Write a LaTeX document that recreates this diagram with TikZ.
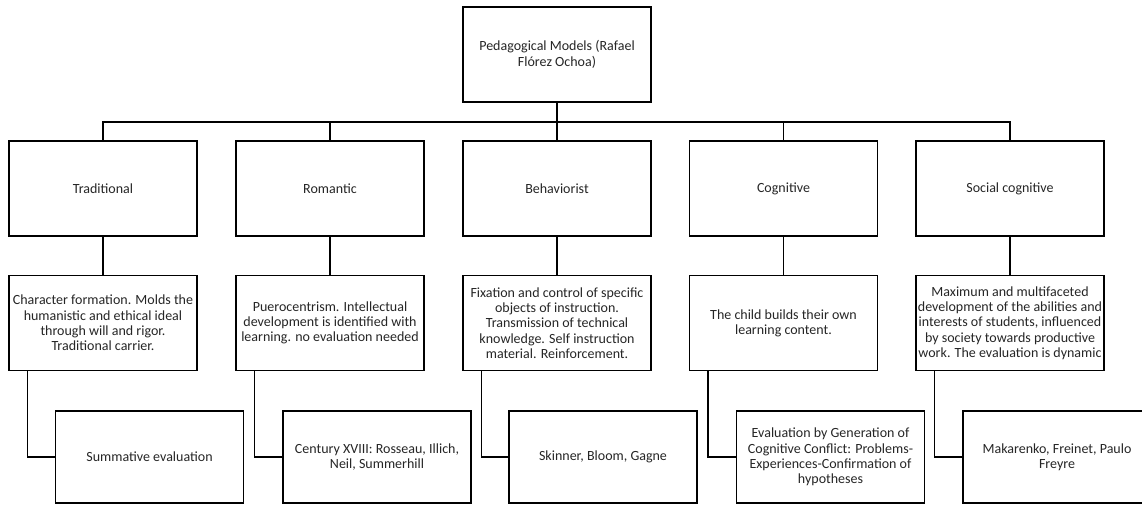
\documentclass[tikz,border=0pt]{standalone}
\usepackage{fontspec}
\setmainfont{Carlito}
\begin{document}
\begin{tikzpicture}[x=1pt,y=-1pt,
  box/.style={draw=black, line width=1.3pt, minimum width=188pt, minimum height=95pt, inner sep=1pt, align=center, font=\fontsize{14}{15.3}\selectfont, text=black!85},
  lowbox/.style={box, minimum height=92pt},
  link/.style={draw=black, line width=1.3pt},
  trunk/.style={draw=black, line width=2.2pt}]
\clip (0,0) rectangle (1142,504);
\fill[white] (0,0) rectangle (1142,504);
% root
\node[box] (root) at (557,54.5) {Pedagogical Models (Rafael\\Flórez Ochoa)};
\coordinate (bus) at (557,122);
% level 1
\node[box] (a1) at (103,188.5) {Traditional};
\node[box] (b1) at (330,188.5) {Romantic};
\node[box] (c1) at (557,188.5) {Behaviorist};
\node[box] (d1) at (783.5,188.5) {Cognitive};
\node[box] (e1) at (1010,188.5) {Social cognitive};
% level 2
\node[box] (a2) at (103,323) {Character formation. Molds the\\humanistic and ethical ideal\\through will and rigor.\\Traditional carrier.};
\node[box] (b2) at (330,323) {Puerocentrism. Intellectual\\development is identified with\\learning. no evaluation needed};
\node[box] (c2) at (557,323) {Fixation and control of specific\\objects of instruction.\\Transmission of technical\\knowledge. Self instruction\\material. Reinforcement.};
\node[box] (d2) at (783.5,323) {The child builds their own\\learning content.};
\node[box] (e2) at (1010,323) {Maximum and multifaceted\\development of the abilities and\\interests of students, influenced\\by society towards productive\\work. The evaluation is dynamic};
% level 3
\node[lowbox] (a3) at (149.5,457) {Summative evaluation};
\node[lowbox] (b3) at (377,457) {Century XVIII: Rosseau, Illich,\\Neil, Summerhill};
\node[lowbox] (c3) at (603,457) {Skinner, Bloom, Gagne};
\node[lowbox] (d3) at (830.5,457) {Evaluation by Generation of\\Cognitive Conflict: Problems-\\Experiences-Confirmation of\\hypotheses};
\node[lowbox] (e3) at (1057,457) {Makarenko, Freinet, Paulo\\Freyre};
% connectors
\draw[trunk] (root.south) -- (bus);
\draw[link] (a1.north) -- (a1.north |- bus) -- (e1.north |- bus) -- (e1.north);
\draw[link] (b1.north) -- (b1.north |- bus);
\draw[link] (c1.north) -- (c1.north |- bus);
\draw[link] (d1.north) -- (d1.north |- bus);
\foreach \n in {a,b,c,d,e}{
  \draw[link] (\n1.south) -- (\n2.north);
  \draw[link] ([xshift=19pt]\n2.south west) |- (\n3.west);
}
\end{tikzpicture}
\end{document}
